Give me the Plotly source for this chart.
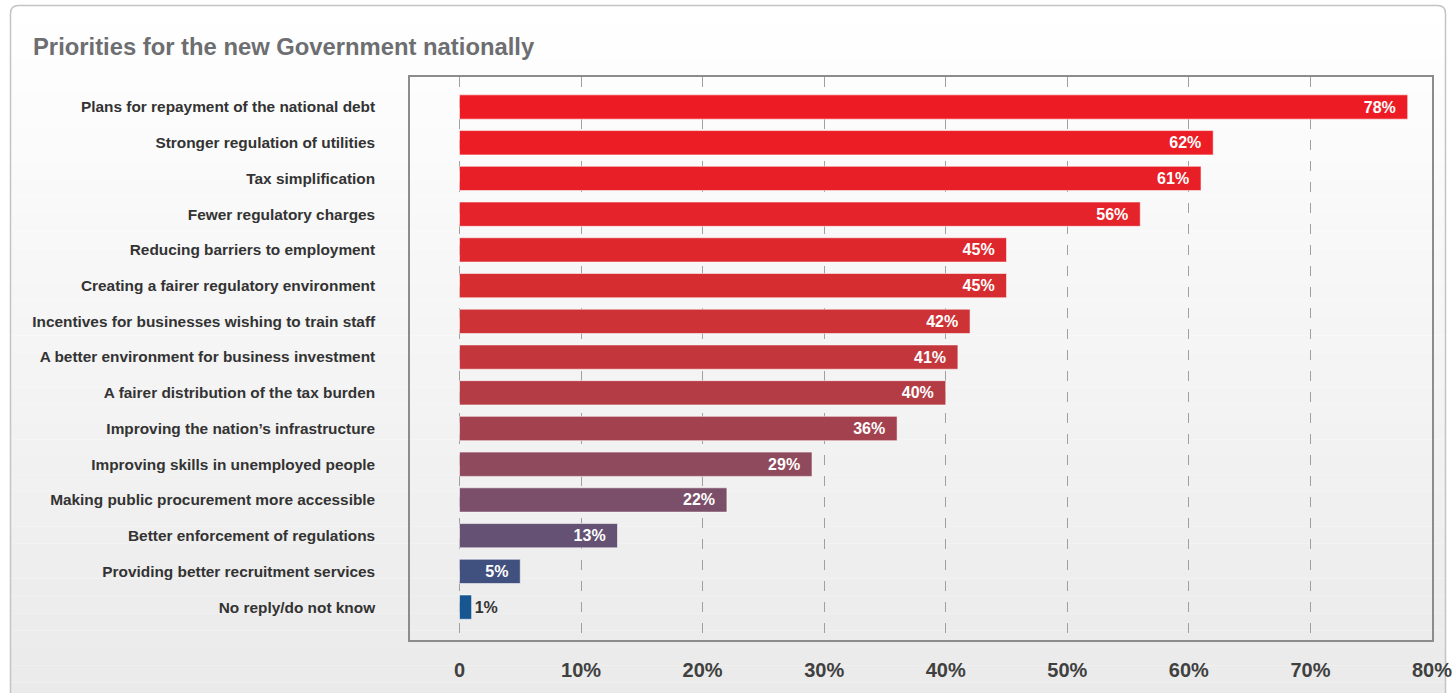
import plotly.graph_objects as go

# ---- data (top to bottom) ----
categories = [
    "Plans for repayment of the national debt",
    "Stronger regulation of utilities",
    "Tax simplification",
    "Fewer regulatory charges",
    "Reducing barriers to employment",
    "Creating a fairer regulatory environment",
    "Incentives for businesses wishing to train staff",
    "A better environment for business investment",
    "A fairer distribution of the tax burden",
    "Improving the nation\u2019s infrastructure",
    "Improving skills in unemployed people",
    "Making public procurement more accessible",
    "Better enforcement of regulations",
    "Providing better recruitment services",
    "No reply/do not know",
]
values = [78, 62, 61, 56, 45, 45, 42, 41, 40, 36, 29, 22, 13, 5, 1]
bar_colors = [
    "#ED1C24", "#EC1D25", "#E91F27", "#E4232A", "#DE272D",
    "#D62D31", "#CD3236", "#C3373C", "#B43D45", "#A4414E",
    "#904A5D", "#7B4F69", "#645173", "#40507F", "#175690",
]
tick_vals = [0, 10, 20, 30, 40, 50, 60, 70, 80]
tick_text = ["0", "10%", "20%", "30%", "40%", "50%", "60%", "70%", "80%"]
title_text = "Priorities for the new Government nationally"

FONT = "Liberation Sans, Arial, Helvetica, sans-serif"
W, H = 1454, 693
ML, MR, MT, MB = 410, 22, 77, 53

fig = go.Figure()
fig.add_trace(go.Bar(
    x=values,
    y=categories,
    orientation="h",
    width=0.68,
    marker=dict(color=bar_colors, line=dict(color="rgba(255,255,255,0.55)", width=1)),
    text=[f"{v}%" for v in values],
    texttemplate="%{text}\u00a0\u00a0",
    textposition="auto",
    insidetextanchor="end",
    textangle=0,
    textfont=dict(family=FONT, size=16, color="white", weight="bold"),
    insidetextfont=dict(family=FONT, size=16, color="white", weight="bold"),
    outsidetextfont=dict(family=FONT, size=16, color="#333333", weight="bold"),
    cliponaxis=False,
    hoverinfo="skip",
))

# ---- background frame with soft vertical gradient ----
pw = W - ML - MR
ph = H - MT - MB

def px2x(px):
    return (px - ML) / pw

def py2y(py):
    return (H - MB - py) / ph

shapes = []
top_px, bot_px = 5.5, 700
n = 40
c0, c1 = 255, 234
for i in range(n):
    y0 = top_px + (bot_px - top_px) * i / n
    y1 = top_px + (bot_px - top_px) * (i + 1) / n
    c = round(c0 + (c1 - c0) * (i + 0.5) / n)
    shapes.append(dict(
        type="rect", xref="paper", yref="paper", layer="below",
        x0=px2x(10.5), x1=px2x(1445.5), y0=py2y(y1), y1=py2y(y0),
        fillcolor=f"rgb({c},{c},{c})", line=dict(width=0),
    ))
# frame outline (rounded top corners)
r = 8
xl, xr, yt, yb = 10.5, 1445.5, 5.5, 705
path = (f"M {px2x(xl)},{py2y(yb)} L {px2x(xl)},{py2y(yt + r)} "
        f"Q {px2x(xl)},{py2y(yt)} {px2x(xl + r)},{py2y(yt)} "
        f"L {px2x(xr - r)},{py2y(yt)} Q {px2x(xr)},{py2y(yt)} {px2x(xr)},{py2y(yt + r)} "
        f"L {px2x(xr)},{py2y(yb)}")
shapes.append(dict(type="path", xref="paper", yref="paper", layer="below",
                   path=path, line=dict(color="#c4c4c4", width=1.5)))

fig.update_layout(
    width=W, height=H,
    margin=dict(l=ML, r=MR, t=MT, b=MB, pad=0, autoexpand=False),
    paper_bgcolor="white",
    plot_bgcolor="rgba(0,0,0,0)",
    showlegend=False,
    shapes=shapes,
    font=dict(family=FONT),
    title=dict(
        text=title_text,
        x=33 / W, xref="container", xanchor="left",
        y=1 - 47 / H, yref="container", yanchor="middle",
        font=dict(family=FONT, size=23.8, color="#6d6e71", weight="bold"),
    ),
    xaxis=dict(
        range=[-4.07, 80],
        tickvals=tick_vals, ticktext=tick_text,
        showgrid=True, gridcolor="#a0a0a0", gridwidth=1, griddash="10px,11px",
        zeroline=False, automargin=False,
        showline=True, linecolor="#8c8c8c", linewidth=1.5, mirror=True,
        ticks="", ticklabelstandoff=11,
        tickfont=dict(family=FONT, size=20, color="#404040", weight="bold"),
        fixedrange=True,
    ),
    yaxis=dict(
        type="category",
        categoryorder="array", categoryarray=categories,
        range=[14.92, -0.84],
        showgrid=False, zeroline=False, automargin=False,
        showline=True, linecolor="#8c8c8c", linewidth=1.5, mirror=True,
        ticks="", ticklabelstandoff=30,
        tickfont=dict(family=FONT, size=15.4, color="#333333", weight="bold"),
        fixedrange=True,
    ),
    bargap=0.3,
)

fig.write_html(
    "out.html",
    config={"displayModeBar": False},
    post_script="document.body.style.margin='0';document.body.style.overflow='hidden';",
)
